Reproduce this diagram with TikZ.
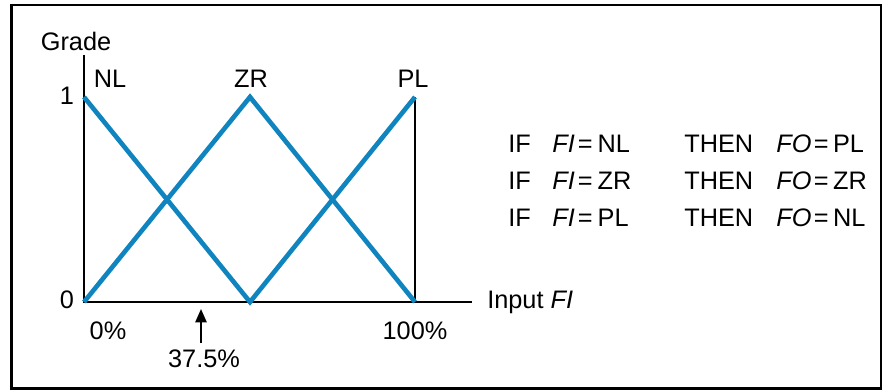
\documentclass[tikz,border=0pt]{standalone}
\usepackage{fontspec}
\setmainfont{Liberation Sans}
\usetikzlibrary{arrows.meta}
\definecolor{gradeblue}{RGB}{16,132,190}
\begin{document}
\begin{tikzpicture}[x=0.025cm,y=-0.025cm,
  axis/.style={draw=black,line width=1.6pt},
  member/.style={draw=gradeblue,line width=3.3pt,line join=miter},
  lbl/.style={inner sep=0pt,anchor=base,font=\fontsize{18}{21}\selectfont}]
  \useasboundingbox (0,0) rectangle (883,391);
  \draw[line width=1.8pt] (11.5,5.2) rectangle (881,388.3);
  % axes
  \coordinate (origin) at (84,302);
  \coordinate (ytop) at (84,55);
  \coordinate (xend) at (472,302);
  \coordinate (full) at (415,302);
  \coordinate (fulltop) at (415,97);
  \coordinate (nlpeak) at (84,97);
  \coordinate (zrpeak) at (250,97);
  \coordinate (zrfoot) at (250,302);
  \draw[axis] (ytop) -- (origin) -- (xend);
  \draw[axis] (full) -- (fulltop);
  % membership functions
  \draw[member] (nlpeak) -- (zrfoot) -- (fulltop);
  \draw[member] (origin) -- (zrpeak) -- (full);
  % labels
  \node[lbl] (grade) at (76,50) {Grade};
  \node[lbl] (nl) at (110,87) {NL};
  \node[lbl] (zr) at (251,87) {ZR};
  \node[lbl] (pl) at (413,87) {PL};
  \node[lbl] (one) at (67,104) {1};
  \node[lbl] (zero) at (67,308) {0};
  \node[lbl] (pct0) at (108,339) {0\%};
  \node[lbl] (pct100) at (415,339) {100\%};
  \node[lbl] (pct375) at (204,367) {37.5\%};
  \node[lbl,anchor=base west] (input) at (487,308) {Input \textit{FI}};
  \coordinate (mark) at (201,309);
  \coordinate (tail) at (201,343);
  \draw[-{Triangle[length=9.5pt,width=8pt]},line width=1.4pt] (tail) -- (mark);
  % rules
  \foreach \inval/\outval [count=\i] in {NL/PL,ZR/ZR,PL/NL}{
    \node[lbl,anchor=base west] (if\i) at (508,115+37*\i) {IF};
    \node[lbl,anchor=base west] (cond\i) at (552,115+37*\i)
      {\textit{FI}\kern0.12em=\kern0.2em\inval};
    \node[lbl,anchor=base west] (then\i) at (684,115+37*\i) {THEN};
    \node[lbl,anchor=base west] (act\i) at (776,115+37*\i)
      {\textit{FO}\kern0.1em=\kern0.17em\outval};
  }
\end{tikzpicture}
\end{document}
